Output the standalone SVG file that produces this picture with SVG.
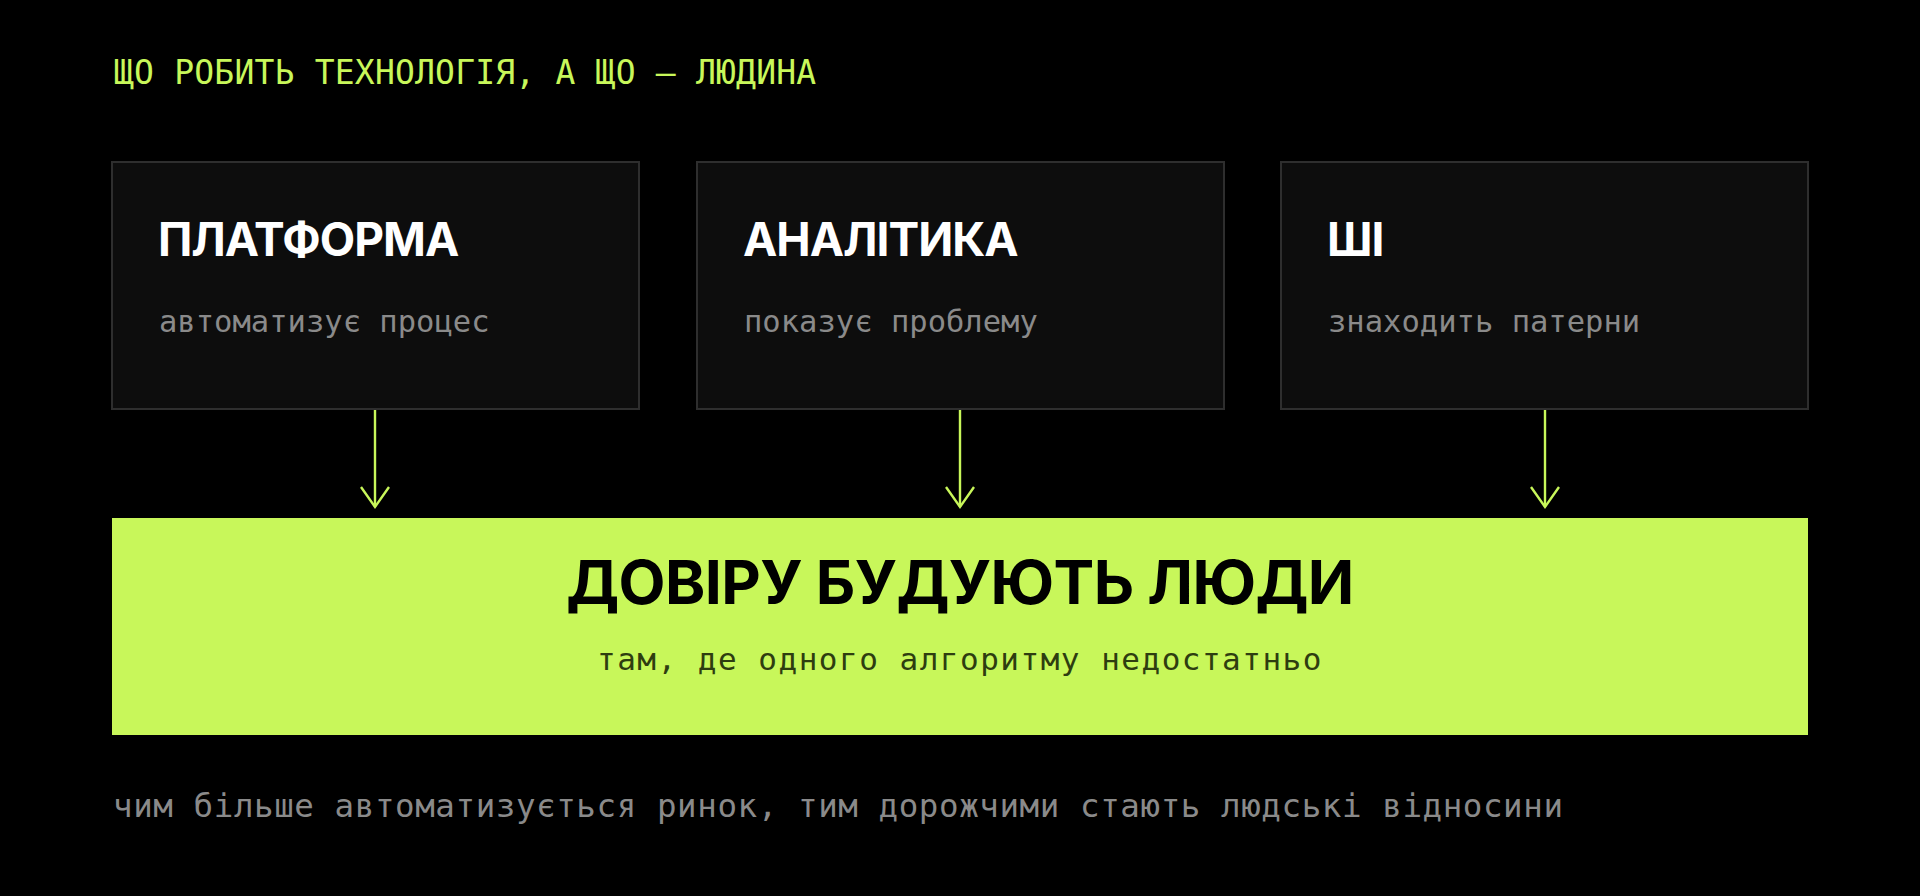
<svg xmlns="http://www.w3.org/2000/svg" width="1920" height="896" viewBox="0 0 1920 896">
<style>
.mono{font-family:"DejaVu Sans Mono","Liberation Mono",monospace}
.head{font-family:Inter,"Noto Sans","Liberation Sans",sans-serif;font-weight:700}
.card{fill:#0d0d0d;stroke:#2e2e2e;stroke-width:2}
.ttl{fill:#ffffff;font-size:46px;letter-spacing:-1px}
.sub{fill:#8a8a8a;font-size:30.5px}
.conn{stroke:#c8f75a;stroke-width:2.4;fill:none}
</style>
<defs>
<marker id="arr" viewBox="-22 -16 24 32" markerWidth="24" markerHeight="32" refX="0" refY="0" orient="auto" markerUnits="userSpaceOnUse" overflow="visible">
<path d="M-20,-14 L0,0 L-20,14" fill="none" stroke="#c8f75a" stroke-width="2.4"/>
</marker>
</defs>
<rect width="1920" height="896" fill="#000"/>
<text class="mono" x="114" y="84" font-size="33" letter-spacing="0.2" fill="#c8f75a">ЩО РОБИТЬ ТЕХНОЛОГІЯ, А ЩО — ЛЮДИНА</text>
<g id="node-platform">
<rect class="card" x="112" y="162" width="527" height="247"/>
<text class="head ttl" x="158" y="256">ПЛАТФОРМА</text>
<text class="mono sub" x="159" y="332">автоматизує процес</text>
</g>
<g id="node-analytics">
<rect class="card" x="697" y="162" width="527" height="247"/>
<text class="head ttl" x="743" y="256">АНАЛІТИКА</text>
<text class="mono sub" x="744" y="332">показує проблему</text>
</g>
<g id="node-ai">
<rect class="card" x="1281" y="162" width="527" height="247"/>
<text class="head ttl" x="1327" y="256">ШІ</text>
<text class="mono sub" x="1328" y="332">знаходить патерни</text>
</g>
<g id="connectors">
<line class="conn" x1="375" y1="410" x2="375" y2="507" marker-end="url(#arr)"/>
<line class="conn" x1="960" y1="410" x2="960" y2="507" marker-end="url(#arr)"/>
<line class="conn" x1="1545" y1="410" x2="1545" y2="507" marker-end="url(#arr)"/>
</g>
<g id="node-people">
<rect x="112" y="518" width="1696" height="217" fill="#c8f75a"/>
<text class="head" x="960" y="604" text-anchor="middle" font-size="61" font-weight="800" letter-spacing="-0.6" fill="#000">ДОВІРУ БУДУЮТЬ ЛЮДИ</text>
<text class="mono" x="960" y="670" text-anchor="middle" font-size="31" letter-spacing="1.5" fill="#2e3d10">там, де одного алгоритму недостатньо</text>
</g>
<text class="mono" x="113" y="817" font-size="32.5" letter-spacing="0.58" fill="#8a8a8a">чим більше автоматизується ринок, тим дорожчими стають людські відносини</text>
</svg>
